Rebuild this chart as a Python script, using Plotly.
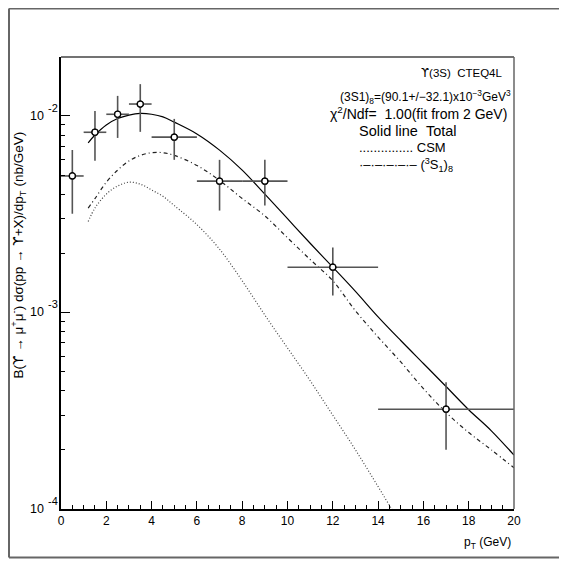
import math
import plotly.graph_objects as go

# ---------------- data ----------------
pt_data = [0.5, 1.5, 2.5, 3.5, 5.0, 7.0, 9.0, 12.0, 17.0]
pt_halfwidth = [0.5, 0.5, 0.5, 0.5, 1.0, 1.0, 1.0, 2.0, 3.0]
y_data = [0.00495, 0.00826, 0.0102, 0.0115, 0.0078, 0.00466, 0.00466, 0.0017, 0.000322]
y_hi = [0.00671, 0.0106, 0.01265, 0.01452, 0.00966, 0.00598, 0.00598, 0.00214, 0.000441]
y_lo = [0.00318, 0.00591, 0.00773, 0.0083, 0.00598, 0.0033, 0.0035, 0.00122, 0.000200]

pt_curve = [1.2, 1.5, 2, 2.5, 3, 3.5, 4, 4.5, 5, 6, 7, 8, 9, 10, 11, 12, 13, 14, 15, 16, 17, 18, 19, 20]
total = [0.0073, 0.0080, 0.0090, 0.0097, 0.0101, 0.0103, 0.0102, 0.0099, 0.0093, 0.0081, 0.0067,
         0.0053, 0.0040, 0.0030, 0.00225, 0.0017, 0.00128, 0.00095, 0.00072, 0.00055, 0.00042,
         0.00032, 0.00025, 0.000188]
octet = [0.0034, 0.0038, 0.0046, 0.0053, 0.0059, 0.0063, 0.0065, 0.0065, 0.0063, 0.0056, 0.0047,
         0.0038, 0.0031, 0.0024, 0.00186, 0.00145, 0.00102, 0.00075, 0.00056, 0.00041, 0.00031,
         0.000245, 0.000200, 0.000162]
pt_csm = [1.2, 1.5, 2, 2.5, 3, 3.5, 4, 4.5, 5, 6, 7, 8, 9, 10, 11, 12, 13, 14, 14.6, 15]
csm = [0.0029, 0.0034, 0.0040, 0.0044, 0.0046, 0.0045, 0.0042, 0.0039, 0.0035, 0.0028, 0.0021,
       0.00145, 0.00097, 0.00066, 0.00045, 0.00030, 0.00020, 0.00013, 0.0001, 0.000085]

x_ticks = [0, 2, 4, 6, 8, 10, 12, 14, 16, 18, 20]
y_ticks = [1e-4, 1e-3, 1e-2]
y_tick_base = "10"
y_minor = [m * 10 ** e for e in (-4, -3, -2) for m in range(2, 10)]

FONT = "Liberation Sans, Arial, sans-serif"
UPS = '<span style="font-family:DejaVu Sans">ϒ</span>'

fig = go.Figure()
fig.add_trace(go.Scatter(x=pt_curve, y=total, mode="lines", line_shape="spline",
                         line=dict(color="black", width=1.2), hoverinfo="skip"))
fig.add_trace(go.Scatter(x=pt_curve, y=octet, mode="lines", line_shape="spline",
                         line=dict(color="#222", width=1.2, dash="4px,3px,1px,3px"), hoverinfo="skip"))
fig.add_trace(go.Scatter(x=pt_csm, y=csm, mode="lines", line_shape="spline",
                         line=dict(color="#444", width=1.2, dash="1px,2px"), hoverinfo="skip"))
fig.add_trace(go.Scatter(
    x=pt_data, y=y_data, mode="markers",
    marker=dict(symbol="circle-open", size=6, color="black", line=dict(width=1.3)),
    error_x=dict(type="data", array=pt_halfwidth, color="#555", thickness=1.6, width=0),
    error_y=dict(type="data", symmetric=False,
                 array=[h - v for h, v in zip(y_hi, y_data)],
                 arrayminus=[v - l for v, l in zip(y_data, y_lo)],
                 color="#555", thickness=1.6, width=0),
))
fig.add_trace(go.Scatter(x=pt_data, y=y_data, mode="markers",
                         marker=dict(symbol="circle", size=6, color="white",
                                     line=dict(color="black", width=1.2)), hoverinfo="skip"))

# the page adds an 8px body margin, so the figure is 551 px and shifted accordingly
fig.update_layout(
    width=551, height=551,
    margin=dict(l=53, r=45, t=49, b=50),
    paper_bgcolor="white", plot_bgcolor="white",
    showlegend=False,
    font=dict(family=FONT, size=12, color="black"),
    xaxis=dict(range=[0, 20], tickvals=x_ticks, ticks="inside", ticklen=8, tickwidth=1.2,
               tickcolor="black", showgrid=False, zeroline=False, showline=True,
               linecolor="black", linewidth=1.5, tickfont=dict(size=12),
               minor=dict(tickvals=[i * 0.5 for i in range(41)], ticks="inside", ticklen=4,
                          tickcolor="black", tickwidth=1, showgrid=False)),
    yaxis=dict(type="log", range=[-4, -1.70], tickvals=y_ticks, showticklabels=False,
               ticks="inside", ticklen=9, tickwidth=1.2, tickcolor="black", showgrid=False,
               zeroline=False, showline=True, linecolor="black", linewidth=1.5,
               minor=dict(tickvals=y_minor, ticks="inside", ticklen=4, tickcolor="black",
                          tickwidth=1, showgrid=False)),
)

def px_x(p):
    # reference-page pixel -> paper
    return (p - 61) / 453

def px_y(p):
    return (509.5 - p) / 452

# y tick labels as 10 with full-size exponent (PAW style)
for v in y_ticks:
    exp = int(round(math.log10(v)))
    fig.add_annotation(xref="paper", yref="y", x=px_x(46), y=math.log10(v), text=y_tick_base,
                       xanchor="right", yanchor="middle", showarrow=False,
                       font=dict(family=FONT, size=12.5, color="black"))
    fig.add_annotation(xref="paper", yref="y", x=px_x(46), y=math.log10(v), text=str(exp),
                       xanchor="left", yanchor="middle", yshift=8, showarrow=False,
                       font=dict(family=FONT, size=11, color="black"))

# frame top/right
fig.add_shape(type="line", xref="paper", yref="paper", x0=0, x1=1, y0=1, y1=1,
              line=dict(color="#444", width=1.5))
fig.add_shape(type="line", xref="paper", yref="paper", x0=1, x1=1, y0=0, y1=1,
              line=dict(color="#666", width=1.5))
# outer border (left, top, bottom)
bx0, by0, by1, bx1 = px_x(9), px_y(558), px_y(9), px_x(580)
for (x0, y0, x1, y1) in [(bx0, by0, bx0, by1), (bx0, by1, bx1, by1), (bx0, by0, bx1, by0)]:
    fig.add_shape(type="line", xref="paper", yref="paper", x0=x0, y0=y0, x1=x1, y1=y1,
                  line=dict(color="#666", width=2))

ann = [
    dict(text=UPS + "(3S)\u00a0\u00a0CTEQ4L", x=px_x(505), y=px_y(73), xanchor="right", size=11.5),
    dict(text="(3S1)<sub>8</sub>=(90.1+/−32.1)x10<sup>−3</sup>GeV<sup>3</sup>", x=px_x(513), y=px_y(97), xanchor="right", size=12),
    dict(text="χ<sup>2</sup>/Ndf=\u00a0\u00a01.00(fit from 2 GeV)", x=px_x(328), y=px_y(113), xanchor="left", size=14),
    dict(text="Solid line\u00a0\u00a0Total", x=px_x(357), y=px_y(131), xanchor="left", size=14.5),
    dict(text="...............\u00a0CSM", x=px_x(357), y=px_y(148), xanchor="left", size=13),
    dict(text="·–·–·–·–·–\u00a0(<sup>3</sup>S<sub>1</sub>)<sub>8</sub>", x=px_x(357), y=px_y(165), xanchor="left", size=13),
    dict(text="p<sub>T</sub> (GeV)", x=px_x(513), y=px_y(543), xanchor="right", size=12),
]
for a in ann:
    size = a.pop("size")
    fig.add_annotation(xref="paper", yref="paper", yanchor="middle", showarrow=False,
                       font=dict(family=FONT, size=size, color="black"), **a)

fig.add_annotation(xref="paper", yref="paper", x=px_x(18), y=px_y(256), showarrow=False,
                   textangle=-90, xanchor="center", yanchor="middle",
                   text="B(" + UPS + " → μ<sup>+</sup>μ<sup>-</sup>) dσ(pp → " + UPS
                        + "+X)/dp<sub>T</sub> (nb/GeV)",
                   font=dict(family=FONT, size=13.5, color="black"))

fig.write_html("out.html")
